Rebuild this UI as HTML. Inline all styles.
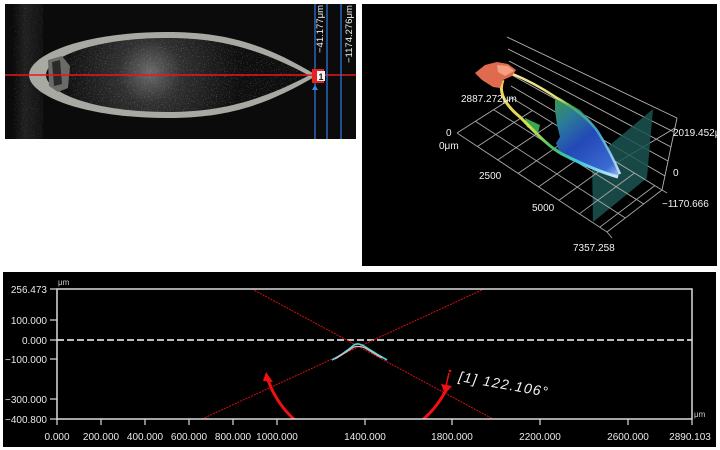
<!DOCTYPE html>
<html><head><meta charset="utf-8">
<style>
html,body{margin:0;padding:0;background:#fff;}
svg{display:block;}
text{font-family:"Liberation Sans","Noto Sans CJK JP",sans-serif;}
</style></head>
<body>
<svg width="720" height="450" viewBox="0 0 720 450" xmlns="http://www.w3.org/2000/svg">
<defs>
  <clipPath id="c1"><rect x="5" y="4" width="351" height="135"/></clipPath>
  <clipPath id="c2"><rect x="362" y="4" width="355" height="262"/></clipPath>
  <clipPath id="c3"><rect x="57" y="289" width="635" height="130"/></clipPath>
  <clipPath id="inner"><path d="M308 75 C256 47,216 38,167 38 C92 38,46 58,46 75 C46 92,92 112,167 112 C216 112,256 103,308 76 Z"/></clipPath>
  <filter id="noise" x="0" y="0" width="100%" height="100%">
    <feTurbulence type="fractalNoise" baseFrequency="0.85" numOctaves="1" seed="3" result="n"/>
    <feColorMatrix in="n" type="matrix" values="0 0 0 0 1  0 0 0 0 1  0 0 0 0 1  4 0 0 0 -2.3"/>
  </filter>
  <radialGradient id="haze" cx="150" cy="72" r="90" gradientUnits="userSpaceOnUse">
    <stop offset="0" stop-color="#6a6a6a"/>
    <stop offset="0.35" stop-color="#303030"/>
    <stop offset="1" stop-color="#0e0e0e"/>
  </radialGradient>
  <linearGradient id="leftg" x1="0" x2="1" y1="0" y2="0">
    <stop offset="0" stop-color="#0a0a0a"/>
    <stop offset="0.4" stop-color="#202020"/>
    <stop offset="1" stop-color="#111"/>
  </linearGradient>
  <linearGradient id="blueg" x1="555" y1="97" x2="620" y2="177" gradientUnits="userSpaceOnUse">
    <stop offset="0" stop-color="#3a9a4a"/>
    <stop offset="0.25" stop-color="#2a7a9a"/>
    <stop offset="0.5" stop-color="#2448b8"/>
    <stop offset="0.85" stop-color="#3a6ad0"/>
    <stop offset="1" stop-color="#a8c8f0"/>
  </linearGradient>
  <linearGradient id="ringL" x1="500" y1="80" x2="618" y2="176" gradientUnits="userSpaceOnUse">
    <stop offset="0" stop-color="#f0d060"/>
    <stop offset="0.35" stop-color="#d8e050"/>
    <stop offset="0.55" stop-color="#40c060"/>
    <stop offset="0.75" stop-color="#40c8e0"/>
    <stop offset="1" stop-color="#d0e8ff"/>
  </linearGradient>
  <linearGradient id="ringU" x1="510" y1="72" x2="620" y2="174" gradientUnits="userSpaceOnUse">
    <stop offset="0" stop-color="#f8e8a0"/>
    <stop offset="0.35" stop-color="#e8e070"/>
    <stop offset="0.45" stop-color="#50b050"/>
    <stop offset="0.7" stop-color="#40a0d0"/>
    <stop offset="1" stop-color="#c0e0ff"/>
  </linearGradient>
</defs>

<!-- ============ TOP-LEFT PHOTO PANEL ============ -->
<g clip-path="url(#c1)">
  <rect x="5" y="4" width="351" height="135" fill="#0b0b0b"/>
  <rect x="13" y="4" width="30" height="135" fill="url(#leftg)"/>
  <rect x="13" y="4" width="30" height="135" filter="url(#noise)" opacity="0.15"/>
  <!-- rim -->
  <path d="M316 75 C262 42,222 32,167 32 C82 32,29 55,29 75 C29 95,82 118,167 118 C222 118,262 108,316 76 Z" fill="#a9a9a3"/>
  <!-- interior -->
  <path d="M308 75 C256 47,216 38,167 38 C92 38,46 58,46 75 C46 92,92 112,167 112 C216 112,256 103,308 76 Z" fill="url(#haze)"/>
  <rect x="46" y="38" width="262" height="74" filter="url(#noise)" opacity="0.28" clip-path="url(#inner)"/>
  <!-- left cap detail -->
  <path d="M48 60 L62 56 L70 66 L68 88 L58 92 L49 86 Z" fill="#6a6a66"/>
  <path d="M52 62 L60 60 L62 84 L54 86 Z" fill="#2a2a2a"/>
  <!-- red line -->
  <line x1="5" y1="75" x2="356" y2="75" stroke="#e81818" stroke-width="1.5"/>
  <!-- blue lines -->
  <line x1="315" y1="4" x2="315" y2="139" stroke="#2f74d8" stroke-width="1.3"/>
  <line x1="327" y1="4" x2="327" y2="139" stroke="#2f74d8" stroke-width="1.3"/>
  <line x1="341" y1="4" x2="341" y2="139" stroke="#2f74d8" stroke-width="1.3"/>
  <!-- marker -->
  <rect x="312" y="69" width="12" height="14" fill="#e82020"/>
  <rect x="317" y="71" width="8" height="10" fill="#f4f4f4"/>
  <text x="321" y="80" font-size="9" font-weight="bold" fill="#222" text-anchor="middle">1</text>
  <path d="M312 90 L315 85 L318 90 Z" fill="#3a86e8"/>
  <!-- vertical labels -->
  <text transform="translate(323,53) rotate(-90)" font-size="9.5" fill="#f0f0f0">−41.177μm</text>
  <text transform="translate(352,63) rotate(-90)" font-size="9.5" fill="#f0f0f0">−1174.276μm</text>
</g>

<!-- ============ TOP-RIGHT 3D PANEL ============ -->
<g clip-path="url(#c2)">
  <rect x="362" y="4" width="355" height="262" fill="#000"/>
  <g stroke="#b4b4b4" stroke-width="0.9">
    <line x1="507" y1="37" x2="677" y2="118"/>
    <line x1="508" y1="49" x2="674" y2="132"/>
    <line x1="509" y1="61" x2="671" y2="147"/>
    <line x1="510" y1="74" x2="668" y2="161"/>
    <line x1="511" y1="86" x2="665" y2="176"/>
    <line x1="662" y1="190" x2="677" y2="118"/>
    <line x1="618" y1="162" x2="675" y2="128"/>
  </g>
  <polygon points="592,160 653,109 647,178 593,222" fill="#1c5552" opacity="0.85"/>
  <g stroke="#a8a8a8" stroke-width="0.9">
    <line x1="457" y1="133" x2="607" y2="232"/>
    <line x1="475.3" y1="121.3" x2="625.3" y2="218"/>
    <line x1="493.7" y1="109.7" x2="643.7" y2="204"/>
    <line x1="512" y1="98" x2="662" y2="190"/>
    <line x1="457" y1="133" x2="512" y2="98"/>
    <line x1="477.4" y1="146.5" x2="532.4" y2="110.5"/>
    <line x1="497.8" y1="159.9" x2="552.8" y2="123"/>
    <line x1="518.2" y1="173.4" x2="573.2" y2="135.5"/>
    <line x1="538.6" y1="186.9" x2="593.6" y2="148"/>
    <line x1="559" y1="200.3" x2="614" y2="160.6"/>
    <line x1="579.4" y1="213.8" x2="634.4" y2="173.1"/>
    <line x1="599.8" y1="227.2" x2="654.8" y2="185.6"/>
    <line x1="607" y1="232" x2="662" y2="190"/>
    <line x1="607" y1="232" x2="612" y2="238"/>
    <line x1="662" y1="190" x2="667" y2="193"/>
  </g>
  <polygon points="525,118 540,125 538,133 527,127" fill="#38a850"/>
  <polygon points="555,97 568,103 580,110 590,120 597,130 606,145 613,157 620,173 617,177 600,172 587,167 570,160 560,153 556,143 560,137 557,125 555,110" fill="url(#blueg)"/>
  <path d="M503 80 C498 92,505 105,520 117 C535 132,550 148,562 154 C580 163,600 172,618 177" fill="none" stroke="url(#ringL)" stroke-width="3"/>
  <path d="M510 73 C528 80,545 90,557 98 C572 106,590 120,598 132 C608 148,614 160,620 174" fill="none" stroke="url(#ringU)" stroke-width="2.5"/>
  <polygon points="475,73 485,65 497,62 508,64 516,70 512,76 503,80 500,88 493,87 482,80" fill="#de6a50"/>
  <polygon points="497,65 508,66 514,71 505,76 498,72" fill="#f4a080"/>
  <g font-size="10" fill="#f2f2f2">
    <text x="461" y="102">2887.272μm</text>
    <text x="446" y="136">0</text>
    <text x="439" y="149">0μm</text>
    <text x="479" y="179">2500</text>
    <text x="532" y="211">5000</text>
    <text x="573" y="251">7357.258</text>
    <text x="673" y="136">2019.452μm</text>
    <text x="673" y="176">0</text>
    <text x="662" y="207">−1170.666</text>
  </g>
</g>

<!-- ============ BOTTOM PROFILE PANEL ============ -->
<rect x="3" y="272" width="713" height="175" fill="#000"/>
<line x1="57" y1="340" x2="692" y2="340" stroke="#bdbdbd" stroke-width="2" stroke-dasharray="7 3"/>
<g clip-path="url(#c3)">
  <line x1="252" y1="289" x2="493" y2="419" stroke="#d81010" stroke-width="1" stroke-dasharray="2 1"/>
  <line x1="202" y1="419" x2="484" y2="289" stroke="#d81010" stroke-width="1" stroke-dasharray="2 1"/>
  <path d="M332 360 C340 356,348 350,354 345 C357 343,360 344,364 346 C372 351,380 356,387 360" fill="none" stroke="#40e0e8" stroke-width="1.6"/>
  <path d="M335 359 C342 355,349 350,354 347 C358 346,361 346,365 348 C370 351,376 355,382 358" fill="none" stroke="#f0b0b8" stroke-width="1.2"/>
  <path d="M268 380 A97 97 0 0 0 296 421" fill="none" stroke="#f01010" stroke-width="3"/>
  <path d="M447 388 A97 97 0 0 1 420 422" fill="none" stroke="#f01010" stroke-width="3"/>
</g>
<polygon points="263,381 266,372 273,382" fill="#f01010"/>
<polygon points="441,384 452,386 445,394" fill="#f01010"/>
<line x1="449" y1="373" x2="446" y2="386" stroke="#f01010" stroke-width="1.5"/>
<circle cx="450" cy="371" r="1.3" fill="#f01010"/>
<rect x="57" y="289" width="635" height="130" fill="none" stroke="#dcdcdc" stroke-width="1.5"/>
<g stroke="#dcdcdc" stroke-width="1.2">
  <line x1="50" y1="289" x2="57" y2="289"/>
  <line x1="50" y1="320" x2="57" y2="320"/>
  <line x1="50" y1="340" x2="57" y2="340"/>
  <line x1="50" y1="359" x2="57" y2="359"/>
  <line x1="50" y1="399" x2="57" y2="399"/>
  <line x1="50" y1="419" x2="57" y2="419"/>
  <line x1="57" y1="419" x2="57" y2="425"/>
  <line x1="101" y1="419" x2="101" y2="425"/>
  <line x1="145" y1="419" x2="145" y2="425"/>
  <line x1="189" y1="419" x2="189" y2="425"/>
  <line x1="233" y1="419" x2="233" y2="425"/>
  <line x1="277" y1="419" x2="277" y2="425"/>
  <line x1="365" y1="419" x2="365" y2="425"/>
  <line x1="452" y1="419" x2="452" y2="425"/>
  <line x1="540" y1="419" x2="540" y2="425"/>
  <line x1="628" y1="419" x2="628" y2="425"/>
  <line x1="692" y1="419" x2="692" y2="425"/>
</g>
<g font-size="10" fill="#e8e8e8" text-anchor="end">
  <text x="47" y="293">256.473</text>
  <text x="47" y="324">100.000</text>
  <text x="47" y="344">0.000</text>
  <text x="47" y="363">−100.000</text>
  <text x="47" y="403">−300.000</text>
  <text x="47" y="423">−400.800</text>
</g>
<g font-size="10" fill="#e8e8e8" text-anchor="middle">
  <text x="57" y="440">0.000</text>
  <text x="101" y="440">200.000</text>
  <text x="145" y="440">400.000</text>
  <text x="189" y="440">600.000</text>
  <text x="233" y="440">800.000</text>
  <text x="277" y="440">1000.000</text>
  <text x="365" y="440">1400.000</text>
  <text x="452" y="440">1800.000</text>
  <text x="540" y="440">2200.000</text>
  <text x="628" y="440">2600.000</text>
  <text x="690" y="440">2890.103</text>
</g>
<text x="58" y="285" font-size="8" fill="#cfcfcf">μm</text>
<text x="694" y="417" font-size="8" fill="#cfcfcf">μm</text>
<text transform="translate(458,381) rotate(10)" font-size="14" font-style="italic" fill="#f4f4f4" textLength="90" lengthAdjust="spacing">[1] 122.106°</text>
</svg>
</body></html>
